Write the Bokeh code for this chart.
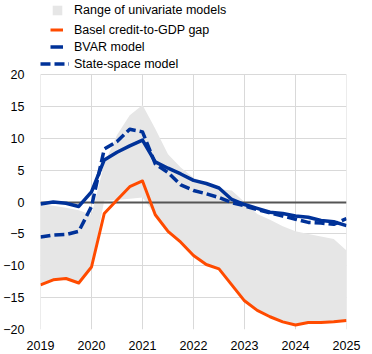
from bokeh.plotting import figure
from bokeh.models import Range1d, Legend, LegendItem, FixedTicker
from bokeh.embed import file_html
from bokeh.resources import INLINE

# Quarterly observations, 2019 Q1 .. 2025 Q1 (expressed as decimal years)
quarters = [2019.0, 2019.25, 2019.5, 2019.75,
            2020.0, 2020.25, 2020.5, 2020.75,
            2021.0, 2021.25, 2021.5, 2021.75,
            2022.0, 2022.25, 2022.5, 2022.75,
            2023.0, 2023.25, 2023.5, 2023.75,
            2024.0, 2024.25, 2024.5, 2024.75,
            2025.0]

basel_gap = [-13.0, -12.2, -12.0, -12.7,
             -10.2, -1.8, 0.3, 2.4,
             3.3, -2.0, -4.6, -6.3,
             -8.4, -9.8, -10.5, -13.0,
             -15.5, -17.0, -18.0, -18.8,
             -19.3, -18.9, -18.9, -18.8,
             -18.6]

bvar_model = [-0.3, 0.0, -0.2, -0.7,
              1.6, 6.6, 7.8, 8.8,
              9.7, 6.3, 5.3, 4.4,
              3.4, 2.9, 2.2, 0.4,
              -0.4, -1.0, -1.6, -1.8,
              -2.2, -2.4, -2.9, -3.1,
              -3.7]

state_space_model = [-5.5, -5.2, -5.1, -4.6,
                     -0.7, 8.3, 9.5, 11.4,
                     11.0, 6.0, 4.6, 2.7,
                     1.8, 1.3, 0.7, -0.1,
                     -0.6, -1.2, -1.7, -2.2,
                     -2.7, -3.2, -3.3, -3.5,
                     -2.6]

range_low = [-13.0, -12.2, -12.0, -12.7,
             -10.2, 0.2, 0.3, 0.5,
             0.7, -2.0, -4.6, -6.3,
             -8.4, -9.8, -10.5, -13.0,
             -15.5, -17.0, -18.0, -18.8,
             -19.3, -18.9, -18.9, -18.8,
             -18.6]

range_high = [-0.4, -0.6, -0.9, -1.3,
              -2.0, 6.0, 10.5, 13.6,
              15.2, 11.5, 7.5, 5.4,
              3.8, 3.0, 2.0, 1.8,
              0.0, -1.9, -2.8, -3.8,
              -4.6, -5.0, -5.4, -5.8,
              -7.6]

year_ticks = [2019, 2020, 2021, 2022, 2023, 2024, 2025]
value_ticks = [-20, -15, -10, -5, 0, 5, 10, 15, 20]

FONT = "Liberation Sans"
FONT_SIZE = "12.5px"
ORANGE = "#ff4b00"
BLUE = "#003299"
GRID = "#d9d9d9"

# The plotting area (-20..20) is 255 px tall; the frame is extended upwards so that
# the legend block above the chart is drawn inside the frame (legends get clipped to it).
Y_MIN, Y_MAX = value_ticks[0], value_ticks[-1]
AXIS_PX = 255
FRAME_PX = 329
y_top = Y_MIN + (Y_MAX - Y_MIN) * FRAME_PX / AXIS_PX

p = figure(width=372, height=354, output_backend="svg", toolbar_location=None,
           x_range=Range1d(year_ticks[0], year_ticks[-1]), y_range=Range1d(Y_MIN, y_top),
           min_border_left=40, min_border_right=26, min_border_top=0,
           min_border_bottom=25)
p.outline_line_color = None
p.background_fill_color = "white"

for ax in (p.xaxis[0], p.yaxis[0]):
    ax.axis_line_color = None
    ax.major_tick_line_color = None
    ax.minor_tick_line_color = None
    ax.major_label_text_font = FONT
    ax.major_label_text_font_size = FONT_SIZE
    ax.major_label_text_color = "#000000"

p.xaxis.ticker = FixedTicker(ticks=year_ticks)
p.yaxis.ticker = FixedTicker(ticks=value_ticks)
p.xaxis.major_label_standoff = 5
p.yaxis.major_label_standoff = 10

# horizontal grid from the ticker; vertical grid limited to the value range
p.xgrid.visible = False
p.ygrid.ticker = FixedTicker(ticks=value_ticks)
p.ygrid.grid_line_color = GRID
p.segment(x0=year_ticks, y0=[Y_MIN] * len(year_ticks), x1=year_ticks,
          y1=[Y_MAX] * len(year_ticks), line_color=GRID, line_width=1, level="underlay")

area = p.varea(x=quarters, y1=range_low, y2=range_high, fill_color="#e6e6e6")
p.hspan(y=[0], line_color="#555555", line_width=2)
basel_r = p.line(quarters, basel_gap, line_color=ORANGE, line_width=3, line_join="round")
bvar_r = p.line(quarters, bvar_model, line_color=BLUE, line_width=3.5, line_join="round")
ss_r = p.line(quarters, state_space_model, line_color=BLUE, line_width=3.5,
              line_dash="10 4", line_join="round")

common = dict(padding=0, spacing=0, margin=0, border_line_color=None,
              background_fill_alpha=0, label_text_font=FONT,
              label_text_font_size=FONT_SIZE, label_text_color="#000000")

leg_a = Legend(items=[LegendItem(label="Range of univariate models", renderers=[area])],
               location=(11, 312), glyph_width=12, glyph_height=12,
               label_height=12, label_standoff=11, **common)
leg_b = Legend(items=[LegendItem(label="Basel credit-to-GDP gap", renderers=[basel_r]),
                      LegendItem(label="BVAR model", renderers=[bvar_r])],
               location=(10, 274), glyph_width=13, glyph_height=17,
               label_height=17, label_standoff=11, **common)
leg_c = Legend(items=[LegendItem(label="State-space model", renderers=[ss_r])],
               location=(0, 257), glyph_width=29, glyph_height=17,
               label_height=17, label_standoff=5, **common)
for lg in (leg_a, leg_b, leg_c):
    p.add_layout(lg)

open("out.html", "w").write(file_html(p, INLINE))
